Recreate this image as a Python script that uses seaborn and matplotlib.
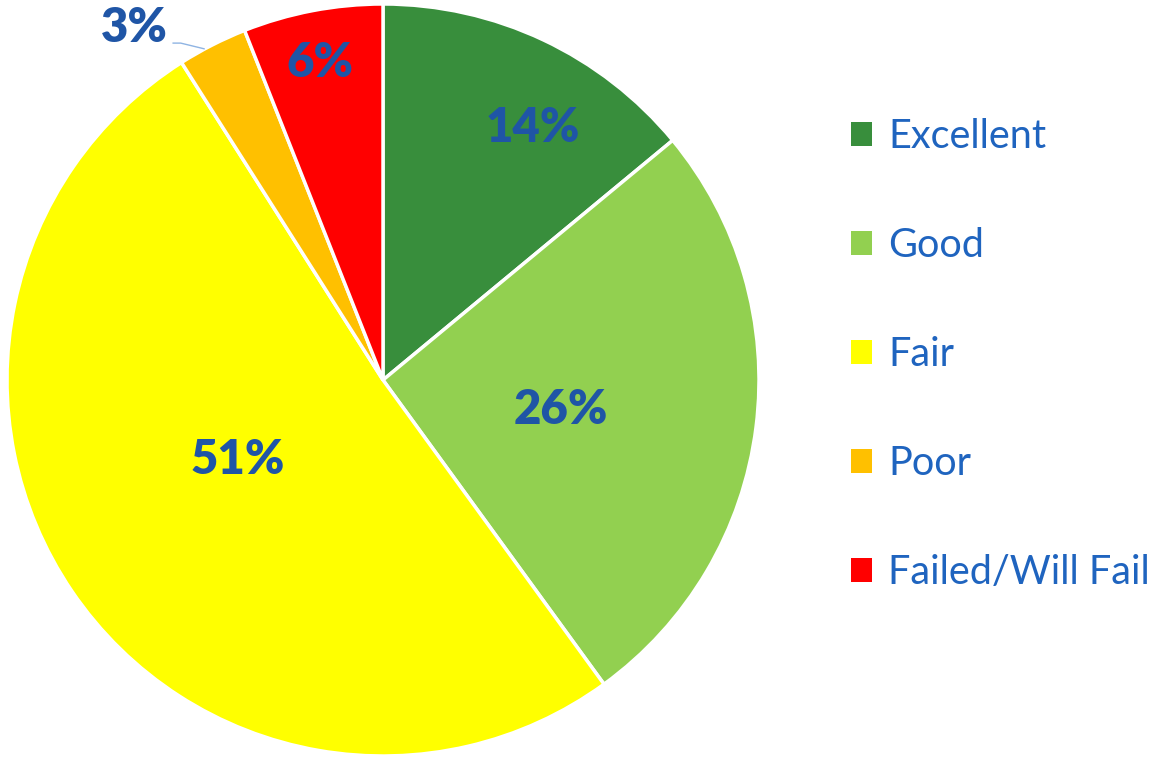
import matplotlib
matplotlib.use("Agg")
import matplotlib.pyplot as plt
import seaborn as sns
import numpy as np

categories = ["Excellent", "Good", "Fair", "Poor", "Failed/Will Fail"]
values = [14, 26, 51, 3, 6]
pct_labels = ["14%", "26%", "51%", "3%", "6%"]
colors = ["#388E3C", "#92D050", "#FFFF00", "#FFC000", "#FF0000"]

# label layout (radius, angle offset in degrees from slice middle)
label_layout = [(0.78, -5.6), (0.48, -2.3), (0.44, -5.3), (None, 0.0), (0.86, 0.4)]

sns.set_theme(style="white")
plt.rcParams['font.family'] = ['Lato', 'DejaVu Sans']

W, H = 1152, 758
fig = plt.figure(figsize=(W / 100, H / 100), dpi=100)
cx, cy, R = 383, 380, 376
ax = fig.add_axes([(cx - R) / W, (H - cy - R) / H, 2 * R / W, 2 * R / H])

wedges, _ = ax.pie(values, colors=colors, startangle=90, counterclock=False,
                   radius=1.0, wedgeprops=dict(edgecolor="white", linewidth=2.5))
ax.set_xlim(-1, 1)
ax.set_ylim(-1, 1)
ax.set_aspect("equal")
ax.axis("off")

label_color = "#1F55A6"
fs = 34
for w, lab, (r, off) in zip(wedges, pct_labels, label_layout):
    mid = (w.theta1 + w.theta2) / 2 + off
    if r is None:
        # outside label with leader line
        tx, ty = -0.66, 0.936
        ax.text(tx, ty, lab, ha="center", va="center", fontsize=fs,
                fontweight="heavy", color=label_color, clip_on=False)
        ea = np.radians(mid + 1.3)
        ex, ey = np.cos(ea), np.sin(ea)
        sx = tx + 0.10
        ax.plot([sx, sx + 0.022, ex], [ty - 0.04, ty - 0.04, ey],
                color="#8FB4E3", lw=1.0, clip_on=False, solid_capstyle="butt")
    else:
        x, y = r * np.cos(np.radians(mid)), r * np.sin(np.radians(mid))
        ax.text(x, y, lab, ha="center", va="center", fontsize=fs,
                fontweight="heavy", color=label_color)

leg = fig.legend(wedges, categories, loc="upper left",
                 bbox_to_anchor=(851 / W, 1 - 118 / H), frameon=False,
                 fontsize=28.5, handlelength=0.54, handleheight=0.54,
                 handletextpad=0.40, labelspacing=1.82, borderpad=0, borderaxespad=0)
for t in leg.get_texts():
    t.set_color("#1F64BF")
for h in leg.legend_handles:
    h.set_edgecolor("none")

fig.savefig("out.png", dpi=100, facecolor="white")
